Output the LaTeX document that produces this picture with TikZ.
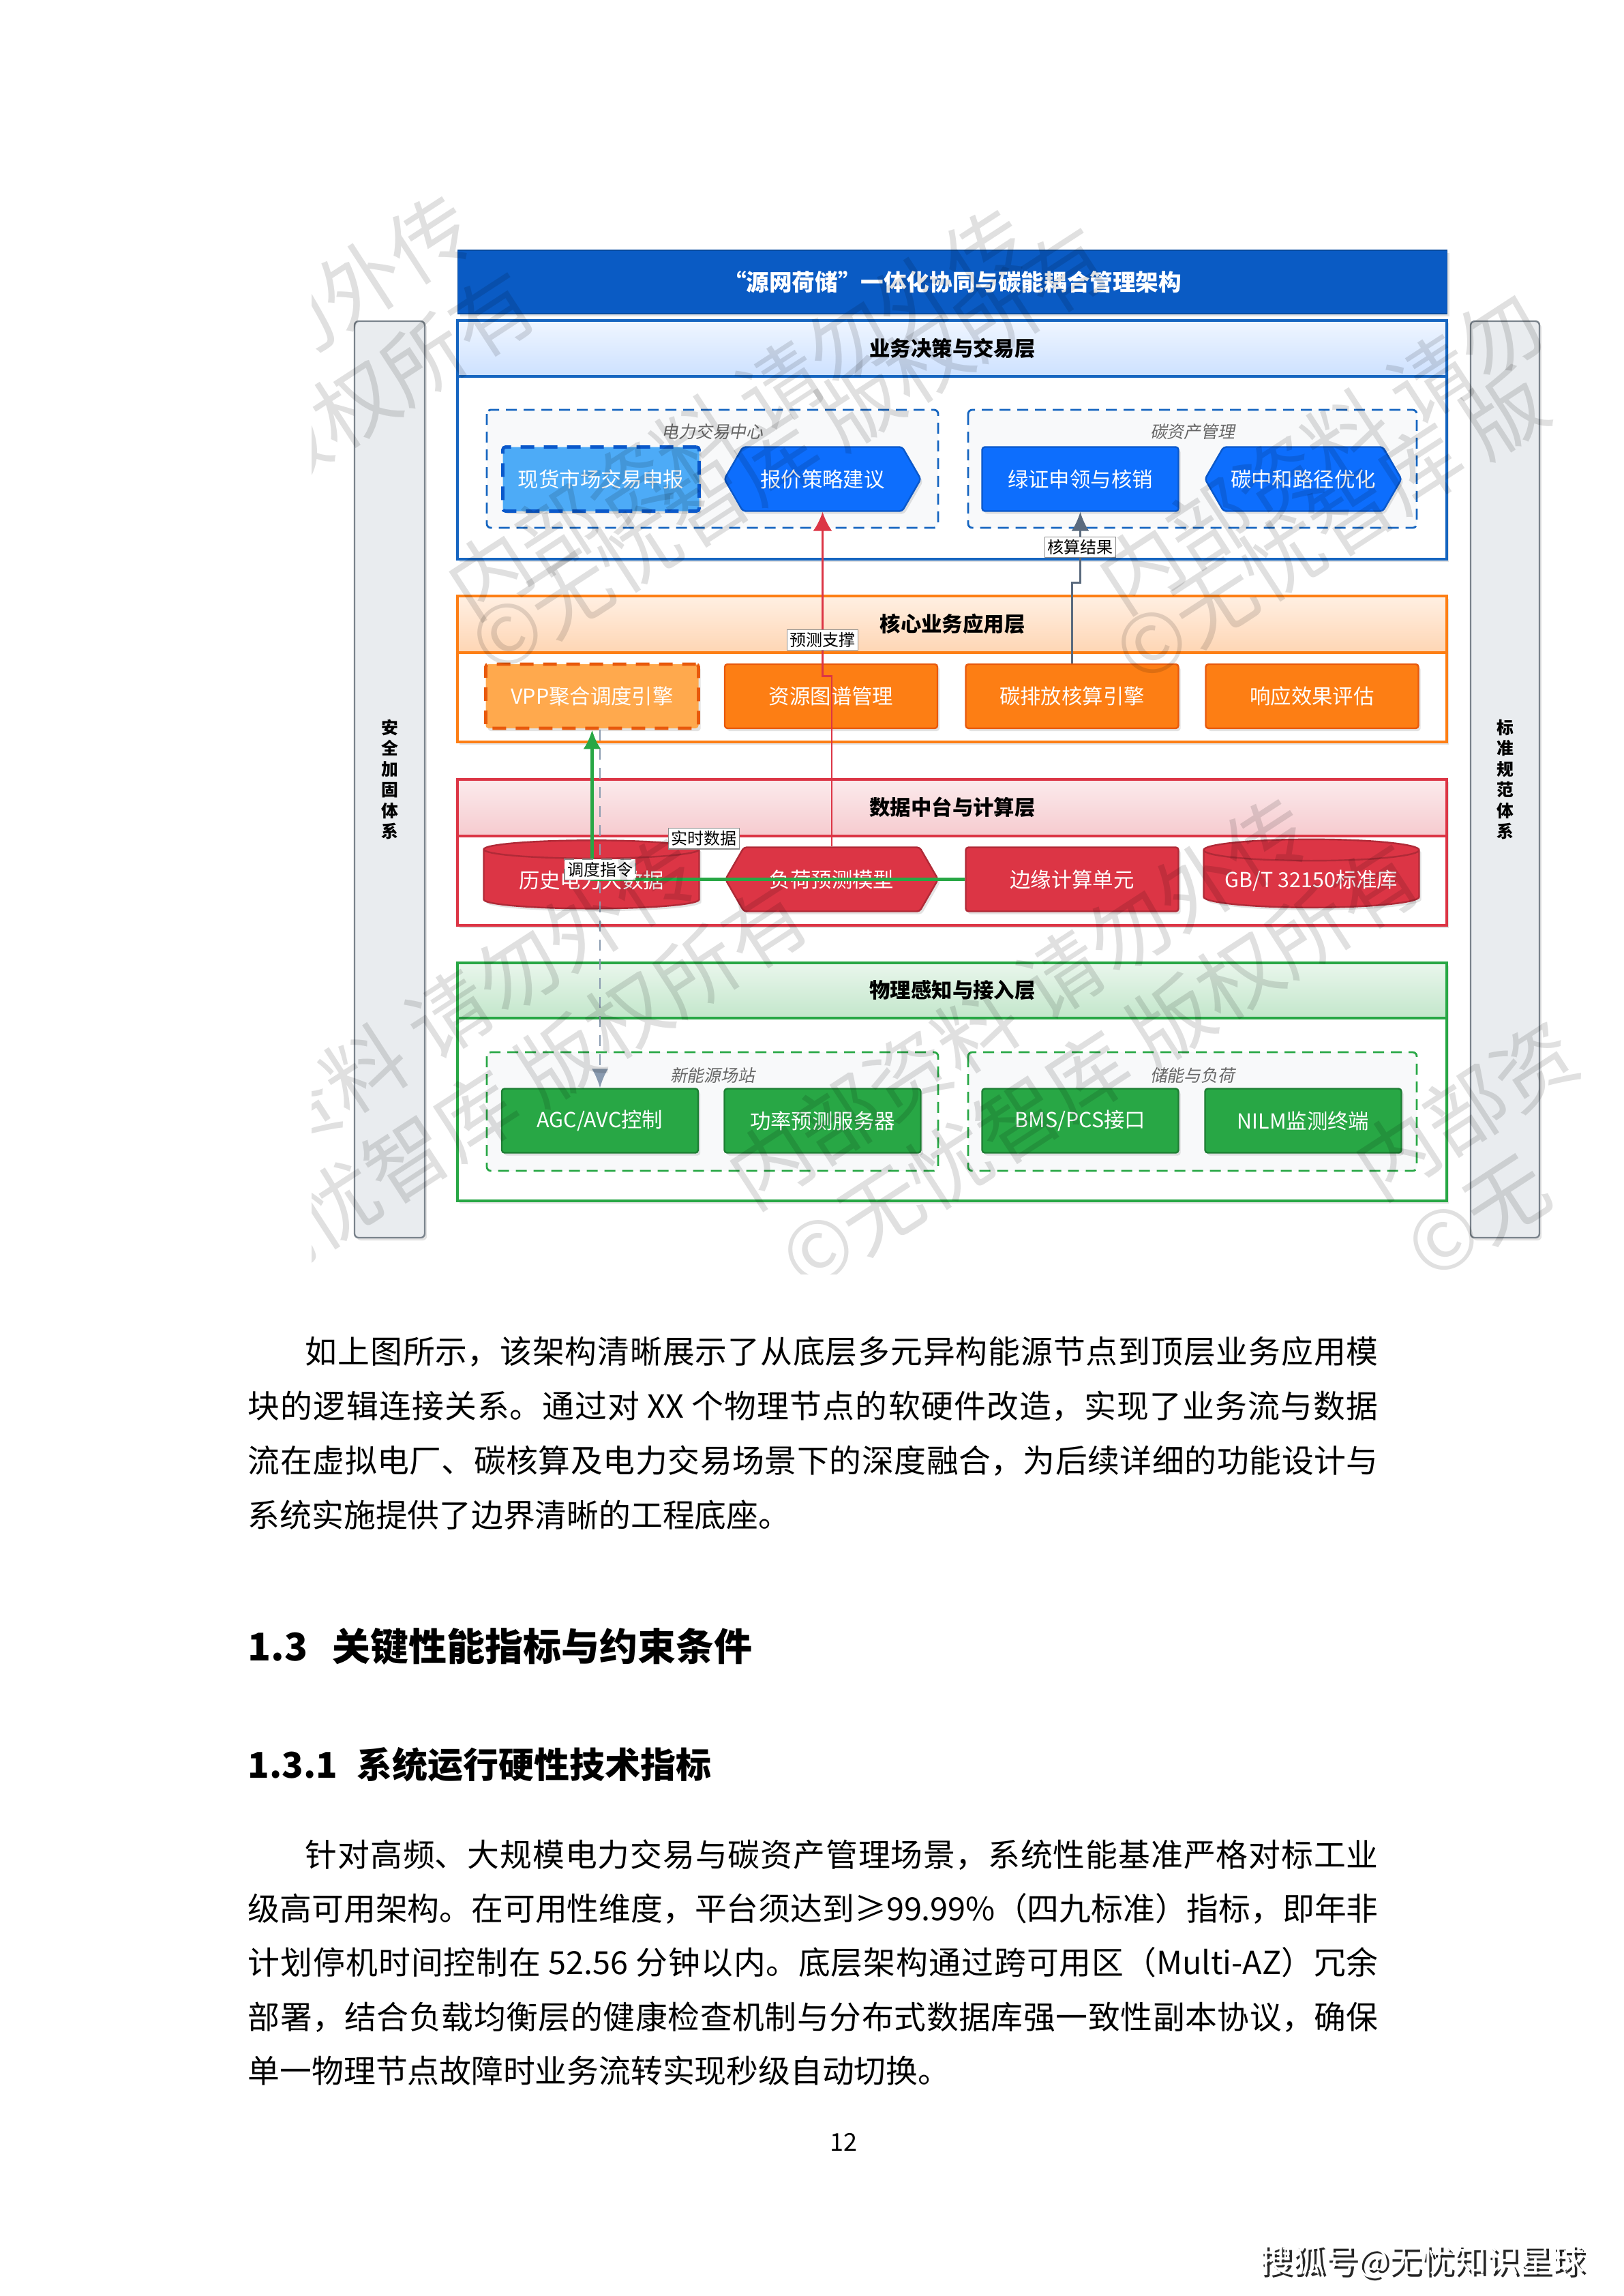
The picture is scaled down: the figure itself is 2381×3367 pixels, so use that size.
\documentclass[tikz,border=0pt]{standalone}
\usepackage{fontspec}
\setmainfont{Noto Sans CJK SC}
\newfontfamily\cjkit[FakeSlant=0.2]{Noto Sans CJK SC}
\XeTeXlinebreaklocale "zh"
\XeTeXlinebreakskip=0pt plus 2pt
\usetikzlibrary{shapes.geometric,shapes.symbols,arrows.meta,shadows}

\definecolor{titleblue}{HTML}{0A5BC4}
\definecolor{titleline}{HTML}{074A9E}
\definecolor{nodeblue}{HTML}{0D6EFD}
\definecolor{spotblue}{HTML}{4DABF7}
\definecolor{blueline}{HTML}{0A58CA}
\definecolor{layblue}{HTML}{1565C0}
\definecolor{skyband}{HTML}{3D8BFD}
\definecolor{nodeorg}{HTML}{FD7E14}
\definecolor{vpporg}{HTML}{FFA94D}
\definecolor{orgline}{HTML}{E8590C}
\definecolor{nodered}{HTML}{DC3545}
\definecolor{redline}{HTML}{B02A37}
\definecolor{nodegrn}{HTML}{28A745}
\definecolor{grnline}{HTML}{1E7E34}
\definecolor{grpfill}{HTML}{F8F9FA}
\definecolor{barfill}{HTML}{E9ECEF}
\definecolor{barline}{HTML}{7A838C}
\definecolor{flowgray}{HTML}{5A6A7E}
\definecolor{flowdash}{HTML}{8A9BB0}

% one justified text line of the page body
\newcommand\jline[2]{\parbox{#1}{\parfillskip=0pt\relax #2}}

\begin{document}
\begin{tikzpicture}[x=0.25pt,y=-0.25pt,
  dshadow/.style={drop shadow={shadow xshift=0.8pt,shadow yshift=-1pt,opacity=0.22}},
  blk/.style={draw,rounded corners=1pt,text=white,minimum width=72pt,minimum height=23.5pt,inner sep=2pt,font=\fontsize{7.6}{9}\selectfont,dshadow},
  wide/.style={minimum width=78pt},
  hexa/.style={shape=signal,signal to=west and east,signal pointer angle=120},
  bluebox/.style={blk,fill=nodeblue,draw=blueline,line width=0.6pt},
  spotbox/.style={blk,fill=spotblue,draw=blueline,line width=1.2pt,dashed,dash pattern=on 5pt off 3.5pt},
  orgbox/.style={blk,wide,fill=nodeorg,draw=orgline,line width=0.6pt},
  vppbox/.style={blk,wide,fill=vpporg,draw=orgline,line width=1.2pt,dashed,dash pattern=on 5pt off 3.5pt},
  redbox/.style={blk,wide,fill=nodered,draw=redline,line width=0.6pt},
  cyl/.style={cylinder,shape border rotate=90,aspect=0.12,draw=redline,fill=nodered,text=white,line width=0.6pt,minimum width=79pt,minimum height=25pt,inner sep=1pt,font=\fontsize{7.6}{9}\selectfont,dshadow},
  grnbox/.style={blk,fill=nodegrn,draw=grnline,line width=0.6pt},
  lay/.style={draw=#1,line width=0.8pt,fill=white,dshadow},
  band/.style n args={3}{draw=#1,line width=0.8pt,top color=#2,bottom color=#3},
  lhead/.style={font=\fontsize{7.6}{9}\selectfont\bfseries},
  grp/.style={draw=#1,line width=0.7pt,dashed,dash pattern=on 4pt off 2.5pt,fill=grpfill,rounded corners=1.5pt},
  glab/.style={font=\fontsize{6.2}{7}\selectfont\cjkit,text=black!60},
  elab/.style={fill=white,draw=black!45,line width=0.3pt,inner sep=1pt,font=\fontsize{6}{7}\selectfont},
  bar/.style={draw=barline,fill=barfill,line width=0.6pt,rounded corners=1.5pt,minimum height=336pt,align=center,font=\fontsize{6.2}{7.6}\selectfont\bfseries,dshadow},
  redflow/.style={-{Latex[length=7pt,width=7pt]},draw=nodered,line width=0.7pt},
  grayflow/.style={-{Latex[length=7pt,width=6.5pt]},draw=flowgray,line width=0.7pt},
  grnflow/.style={-{Latex[length=7pt,width=6.5pt]},draw=nodegrn,line width=1.1pt},
  cmdflow/.style={-{Latex[length=7pt,width=6pt]},draw=flowdash,line width=0.6pt,dashed,dash pattern=on 4pt off 3pt},
  body/.style={anchor=west,inner sep=0pt,font=\fontsize{11.7}{14}\selectfont},
  wmark/.style={anchor=west,rotate=33,inner sep=0pt,text=black,text opacity=0.12,font=\fontsize{30}{32}\selectfont}]

\fill[white] (0,0) rectangle (2381,3367);
\useasboundingbox (0,0) rectangle (2381,3367);

% side bars and title
\node[bar,minimum width=25.75pt] (secbar) at (571.5,1143) {安\\全\\加\\固\\体\\系};
\node[bar,minimum width=25.25pt] (stdbar) at (2207.5,1143) {标\\准\\规\\范\\体\\系};
\node[draw=titleline,fill=titleblue,text=white,minimum width=362.75pt,minimum height=23.25pt,font=\fontsize{8.4}{10}\selectfont\bfseries,dshadow] (title) at (1397,413.5) {“源网荷储”一体化协同与碳能耦合管理架构};

% Business decision and trading layer
\draw[lay=layblue] (671,470) rectangle (2122,820);
\shade[band={layblue}{skyband!8}{skyband!26}] (671,470) rectangle (2122,552);
\node[lhead] (bizhd) at (1397,511) {业务决策与交易层};
\draw[grp=layblue] (714,601) rectangle (1376,774);
\draw[grp=layblue] (1420,601) rectangle (2078,774);
\node[glab] (tradelab) at (1045,633) {电力交易中心};
\node[glab] (carblab) at (1749,633) {碳资产管理};
\node[spotbox] (spot) at (881.5,702.5) {现货市场交易申报};
\node[bluebox,hexa] (bid) at (1206.5,702.5) {报价策略建议};
\node[bluebox] (cert) at (1584.5,702.5) {绿证申领与核销};
\node[bluebox,hexa] (path) at (1911.5,702.5) {碳中和路径优化};

% Core business application layer
\draw[lay=nodeorg] (671,874) rectangle (2122,1088);
\shade[band={nodeorg}{nodeorg!12}{nodeorg!32}] (671,874) rectangle (2122,957);
\node[lhead] (corehd) at (1397,915) {核心业务应用层};
\node[vppbox] (vpp) at (868.5,1021) {VPP聚合调度引擎};
\node[orgbox] (graph) at (1219,1021) {资源图谱管理};
\node[orgbox] (carbon) at (1572.5,1021) {碳排放核算引擎};
\node[orgbox] (resp) at (1924.5,1021) {响应效果评估};

% Data platform and computing layer
\draw[lay=nodered] (671,1143) rectangle (2122,1357);
\shade[band={nodered}{nodered!10}{nodered!26}] (671,1143) rectangle (2122,1226);
\node[lhead] (datahd) at (1397,1184) {数据中台与计算层};
\node[cyl] (hist) at (867.5,1291) {历史电力大数据};
\node[redbox,hexa] (loadm) at (1220,1289.5) {负荷预测模型};
\node[redbox] (edge) at (1572.5,1289.5) {边缘计算单元};
\node[cyl] (gbt) at (1923.5,1291) {GB/T 32150标准库};

% Physical sensing and access layer
\draw[lay=nodegrn] (671,1412) rectangle (2122,1761);
\shade[band={nodegrn}{nodegrn!10}{nodegrn!28}] (671,1412) rectangle (2122,1493);
\node[lhead] (phyhd) at (1397,1452) {物理感知与接入层};
\draw[grp=nodegrn] (714,1543) rectangle (1376,1717);
\draw[grp=nodegrn] (1420,1543) rectangle (2078,1717);
\node[glab] (newlab) at (1045,1577) {新能源场站};
\node[glab] (storlab) at (1749,1577) {储能与负荷};
\node[grnbox] (agc) at (880,1643.5) {AGC/AVC控制};
\node[grnbox] (pwr) at (1206.5,1643.5) {功率预测服务器};
\node[grnbox] (bms) at (1584.5,1643.5) {BMS/PCS接口};
\node[grnbox] (nilm) at (1911.5,1643.5) {NILM监测终端};

% flows between layers
\draw[redflow] (loadm.north) -- ++(0,-250) -| node[elab,pos=0.61]{预测支撑} (bid.south);
\draw[grayflow] (carbon.north) -- ++(0,-118) -| node[elab,pos=0.75]{核算结果} (cert.south);
\draw[grnflow] (edge.west) -| node[elab,pos=0.35,above=11pt]{实时数据} (vpp.south);
\draw[cmdflow] (vpp.south -| agc.north) -- node[elab,pos=0.39]{调度指令} (agc.north);

% watermark
\begin{scope}
\clip (457,279) rectangle (2329,1868);
\foreach \wx/\wy/\wt in {277/579/请勿外传,369/691/版权所有,
    667/875/内部资料\ 请勿外传,701/956/©无忧智库\ 版权所有,
    1622/866/内部资料\ 请勿,1646/969/©无忧智库\ 版,
    182/1797/内部资料\ 请勿外传,260/1918/©无忧智库\ 版权所有,
    1079/1739/内部资料\ 请勿外传,1157/1860/©无忧智库\ 版权所有,
    1998/1726/内部资,2076/1847/©无}
  \node[wmark] at (\wx,\wy) {\wt};
\end{scope}

% page text
\node[body] (p1a) at (447,1982) {\jline{393.5pt}{如上图所示，该架构清晰展示了从底层多元异构能源节点到顶层业务应用模}};
\node[body] (p1b) at (363,2062) {\jline{414.5pt}{块的逻辑连接关系。通过对 XX 个物理节点的软硬件改造，实现了业务流与数据}};
\node[body] (p1c) at (363,2142) {\jline{414.5pt}{流在虚拟电厂、碳核算及电力交易场景下的深度融合，为后续详细的功能设计与}};
\node[body] (p1d) at (363,2222) {系统实施提供了边界清晰的工程底座。};
\node[anchor=west,inner sep=0pt,font=\fontsize{14}{17}\selectfont\bfseries] (h13) at (363,2414) {1.3\hspace{9pt}关键性能指标与约束条件};
\node[anchor=west,inner sep=0pt,font=\fontsize{13}{16}\selectfont\bfseries] (h131) at (363,2588) {1.3.1\hspace{7pt}系统运行硬性技术指标};
\node[body] (p2a) at (447,2720) {\jline{393.5pt}{针对高频、大规模电力交易与碳资产管理场景，系统性能基准严格对标工业}};
\node[body] (p2b) at (363,2799) {\jline{414.5pt}{级高可用架构。在可用性维度，平台须达到≥99.99\%（四九标准）指标，即年非}};
\node[body] (p2c) at (363,2878) {\jline{414.5pt}{计划停机时间控制在 52.56 分钟以内。底层架构通过跨可用区（Multi-AZ）冗余}};
\node[body] (p2d) at (363,2958) {\jline{414.5pt}{部署，结合负载均衡层的健康检查机制与分布式数据库强一致性副本协议，确保}};
\node[body] (p2e) at (363,3037) {单一物理节点故障时业务流转实现秒级自动切换。};
\node[font=\fontsize{9}{11}\selectfont] (pgno) at (1237,3141) {12};
\node[font=\fontsize{12}{14}\selectfont,text=black!85] (footsh) at (2090,3320) {搜狐号@无忧知识星球};
\node[font=\fontsize{12}{14}\selectfont,text=white] (foot) at (2086,3316) {搜狐号@无忧知识星球};
\end{tikzpicture}
\end{document}
